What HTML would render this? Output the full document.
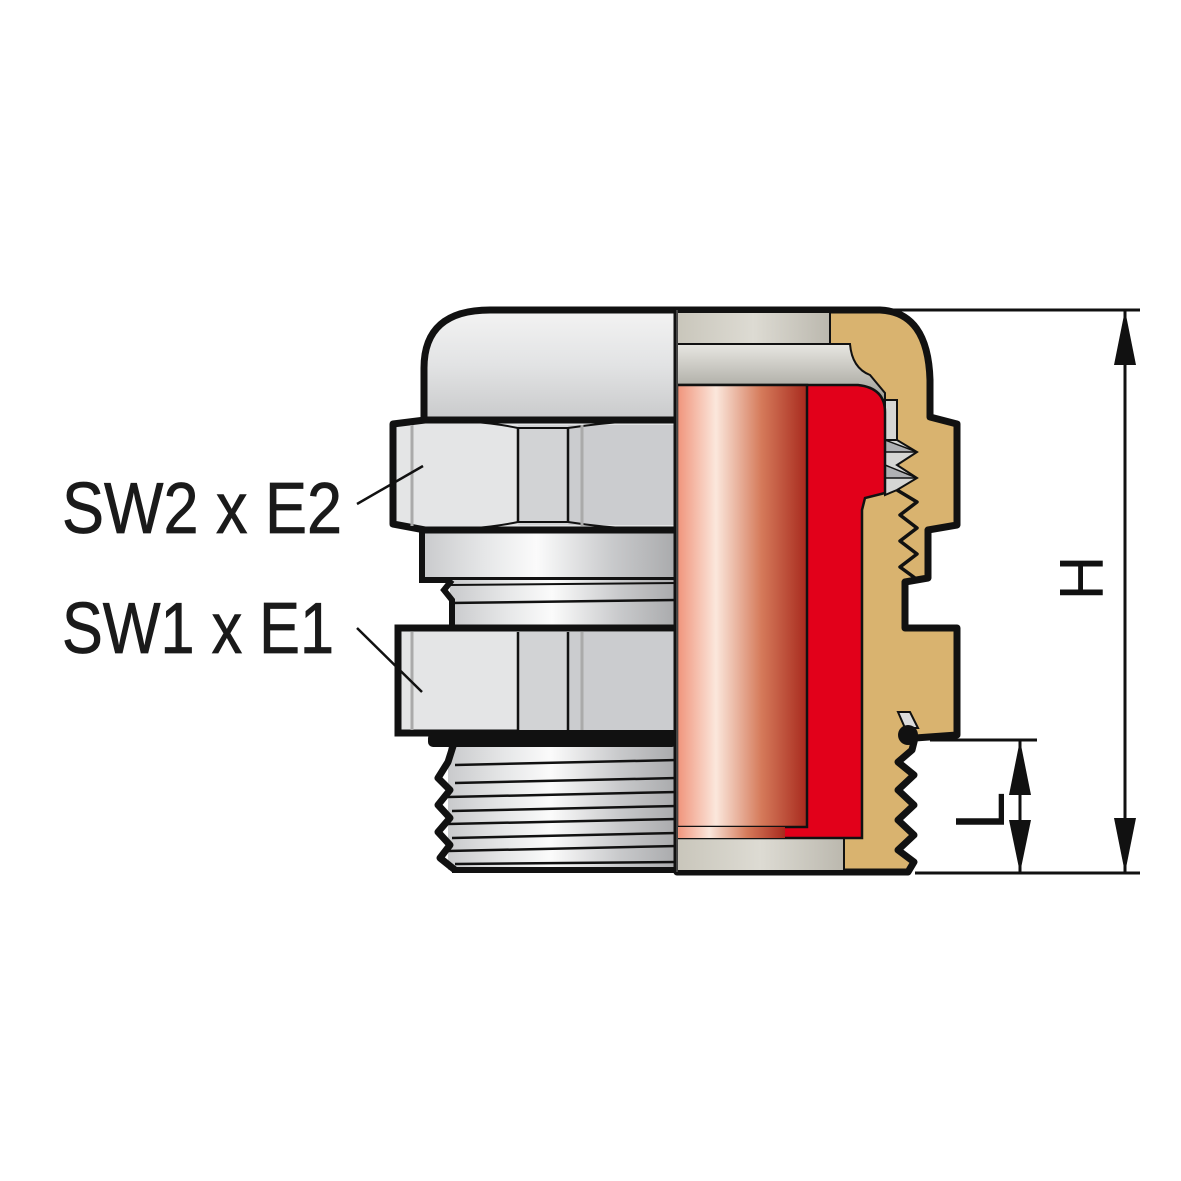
<!DOCTYPE html>
<html><head><meta charset="utf-8"><style>
html,body{margin:0;padding:0;background:#fff;}
svg{display:block;}
</style></head><body>
<svg width="1181" height="1181" viewBox="0 0 1181 1181" xmlns="http://www.w3.org/2000/svg">
<defs>
<linearGradient id="met" x1="0" x2="1" y1="0" y2="0">
<stop offset="0" stop-color="#c9cacc"/><stop offset="0.25" stop-color="#e6e7e8"/><stop offset="0.45" stop-color="#fbfbfb"/><stop offset="0.75" stop-color="#c8c9cb"/><stop offset="1" stop-color="#a9aaac"/>
</linearGradient>
<linearGradient id="cap" x1="0" x2="0" y1="0" y2="1">
<stop offset="0" stop-color="#f3f3f3"/><stop offset="0.5" stop-color="#e2e3e4"/><stop offset="1" stop-color="#c9cacb"/>
</linearGradient>
<linearGradient id="cop" x1="0" x2="1" y1="0" y2="0">
<stop offset="0" stop-color="#f0937a"/><stop offset="0.3" stop-color="#fbe7dc"/><stop offset="0.65" stop-color="#d57a5a"/><stop offset="1" stop-color="#a82a1e"/>
</linearGradient>
<linearGradient id="gb" x1="0" x2="1" y1="0" y2="0">
<stop offset="0" stop-color="#c9c6bb"/><stop offset="0.5" stop-color="#dddbd3"/><stop offset="1" stop-color="#bbb8ae"/>
</linearGradient>
<linearGradient id="gb2" x1="0" x2="0" y1="0" y2="1">
<stop offset="0" stop-color="#e8e7e2"/><stop offset="1" stop-color="#9e9d95"/>
</linearGradient>
</defs>

<rect x="448" y="740" width="229" height="130" fill="url(#met)"/>
<path d="M455 740 L448 762 L438 778 L450 790 L438 805 L450 818 L438 832 L450 845 L440 858 L455 870" fill="none" stroke="#111" stroke-width="7" stroke-linejoin="round"/>
<g stroke="#111" stroke-width="2.5">
<line x1="455" y1="765" x2="677" y2="760"/><line x1="455" y1="783" x2="677" y2="778"/>
<line x1="448" y1="797" x2="677" y2="792"/><line x1="452" y1="811" x2="677" y2="806"/>
<line x1="448" y1="824" x2="677" y2="819"/><line x1="452" y1="838" x2="677" y2="833"/>
<line x1="448" y1="851" x2="677" y2="846"/><line x1="455" y1="864" x2="677" y2="862"/>
</g>
<line x1="452" y1="870" x2="677" y2="870" stroke="#111" stroke-width="6"/>
<rect x="428" y="733" width="249" height="14" fill="#111" rx="5"/>

<path d="M424 420 L424 368 Q424 310 490 310 L677 310 L677 420 Z" fill="url(#cap)" stroke="#111" stroke-width="7"/>
<rect x="422" y="530" width="255" height="50" fill="url(#met)" stroke="#111" stroke-width="6"/>
<rect x="450" y="580" width="227" height="48" fill="url(#met)"/>
<path d="M452 580 L444 590 L452 600 L452 628" fill="none" stroke="#111" stroke-width="6"/>
<line x1="450" y1="603" x2="677" y2="600" stroke="#111" stroke-width="2.5"/>
<line x1="450" y1="585" x2="677" y2="583" stroke="#111" stroke-width="2"/>
<path d="M393 424 L425 420 L677 420 L677 530 L425 530 L393 524 Z" fill="#e4e5e6" stroke="#111" stroke-width="7" stroke-linejoin="round"/>
<rect x="518" y="425" width="50" height="100" fill="#d2d3d5"/>
<rect x="568" y="425" width="109" height="100" fill="#cbcccf"/>
<path d="M425 420 Q480 420 518 428 L568 428 Q620 420 677 420" fill="none" stroke="#111" stroke-width="2"/>
<path d="M425 530 Q480 530 518 522 L568 522 Q620 530 677 530" fill="none" stroke="#111" stroke-width="2"/>
<line x1="518" y1="428" x2="518" y2="522" stroke="#111" stroke-width="2.5"/>
<line x1="568" y1="428" x2="568" y2="522" stroke="#111" stroke-width="2.5"/>
<line x1="412" y1="425" x2="412" y2="526" stroke="#aaa" stroke-width="3"/>
<line x1="582" y1="425" x2="582" y2="526" stroke="#aaa" stroke-width="3"/>
<rect x="398" y="628" width="279" height="105" fill="#e4e5e6" stroke="#111" stroke-width="7"/>
<rect x="518" y="632" width="50" height="98" fill="#d2d3d5"/>
<rect x="568" y="632" width="109" height="98" fill="#cbcccf"/>
<line x1="518" y1="632" x2="518" y2="730" stroke="#111" stroke-width="2.5"/>
<line x1="568" y1="632" x2="568" y2="730" stroke="#111" stroke-width="2.5"/>
<line x1="412" y1="632" x2="412" y2="730" stroke="#aaa" stroke-width="3"/>
<line x1="582" y1="632" x2="582" y2="730" stroke="#aaa" stroke-width="3"/>

<path d="M677 310 L880 310 Q928 312 930 380 L930 417 L957 424 L957 525 L928 530 L928 578 L905 582 L905 628 L957 628 L957 735 L915 738 L912 750 L898 762 L914 775 L898 790 L914 805 L898 820 L914 835 L898 850 L914 862 L908 872 L677 872 Z" fill="#d9b36f" stroke="#111" stroke-width="7" stroke-linejoin="round"/>
<rect x="677" y="313" width="153" height="31" fill="url(#gb)"/>
<line x1="830" y1="313" x2="830" y2="344" stroke="#111" stroke-width="2"/>
<path d="M677 344 L850 344 Q852 368 870 375 L885 393 L885 400 L677 400 Z" fill="url(#gb2)" stroke="#111" stroke-width="2"/>
<path d="M885 400 L897 400 L897 440 L885 440 Z" fill="#d6d6d4" stroke="#111" stroke-width="2"/>
<path d="M885 440 L897 440 L917 452 L897 465 L917 478 L897 490 L885 495 Z" fill="#d6d6d4" stroke="#111" stroke-width="2"/>
<path d="M885 440 L917 452 L885 452 Z M885 465 L917 478 L885 478 Z" fill="#b0b1b4" stroke="#111" stroke-width="1.5"/>
<path d="M897 490 L917 502 L900 515 L917 528 L900 541 L917 554 L900 567 L915 578" fill="none" stroke="#111" stroke-width="3.5" stroke-linejoin="round"/>
<rect x="677" y="838" width="167" height="32" fill="url(#gb)"/>
<line x1="844" y1="838" x2="844" y2="870" stroke="#111" stroke-width="2"/>
<path d="M677 385 L858 385 Q885 388 885 412 L885 493 L865 498 L862 510 L862 838 L677 838 Z" fill="#e2001a" stroke="#111" stroke-width="2.5"/>
<rect x="677" y="385" width="130" height="442" fill="url(#cop)" stroke="#111" stroke-width="2.5"/>
<rect x="677" y="827" width="108" height="11" fill="url(#cop)"/>
<path d="M898 712 L910 712 L918 728 L905 728 Z" fill="#dcdcdc" stroke="#111" stroke-width="2"/>
<circle cx="908" cy="735" r="10" fill="#111"/>
<line x1="677" y1="310" x2="677" y2="872" stroke="#444" stroke-width="2"/>

<g stroke="#111" stroke-width="3">
<line x1="880" y1="310" x2="1140" y2="310"/>
<line x1="915" y1="873" x2="1140" y2="873"/>
<line x1="930" y1="740" x2="1037" y2="740"/>
<line x1="1125" y1="310" x2="1125" y2="873"/>
<line x1="1020" y1="740" x2="1020" y2="873"/>
</g>
<g fill="#111">
<polygon points="1125,310 1114,365 1136,365"/>
<polygon points="1125,873 1114,818 1136,818"/>
<polygon points="1020,740 1009,795 1031,795"/>
<polygon points="1020,873 1009,820 1031,820"/>
</g>
<text x="0" y="0" transform="translate(1103,578) rotate(-90)" font-family="Liberation Sans, sans-serif" font-size="62" text-anchor="middle" fill="#111">H</text>
<text x="0" y="0" transform="translate(1004,811) rotate(-90)" font-family="Liberation Sans, sans-serif" font-size="70" text-anchor="middle" fill="#111">L</text>

<text x="62" y="533" font-family="Liberation Sans, sans-serif" font-size="72" fill="#1a1a1a" stroke="#1a1a1a" stroke-width="0.8" textLength="280" lengthAdjust="spacingAndGlyphs">SW2 x E2</text>
<text x="62" y="653" font-family="Liberation Sans, sans-serif" font-size="72" fill="#1a1a1a" stroke="#1a1a1a" stroke-width="0.8" textLength="272" lengthAdjust="spacingAndGlyphs">SW1 x E1</text>
<line x1="357" y1="504" x2="423" y2="466" stroke="#111" stroke-width="2.5"/>
<line x1="357" y1="628" x2="422" y2="692" stroke="#111" stroke-width="2.5"/>
</svg>
</body></html>
